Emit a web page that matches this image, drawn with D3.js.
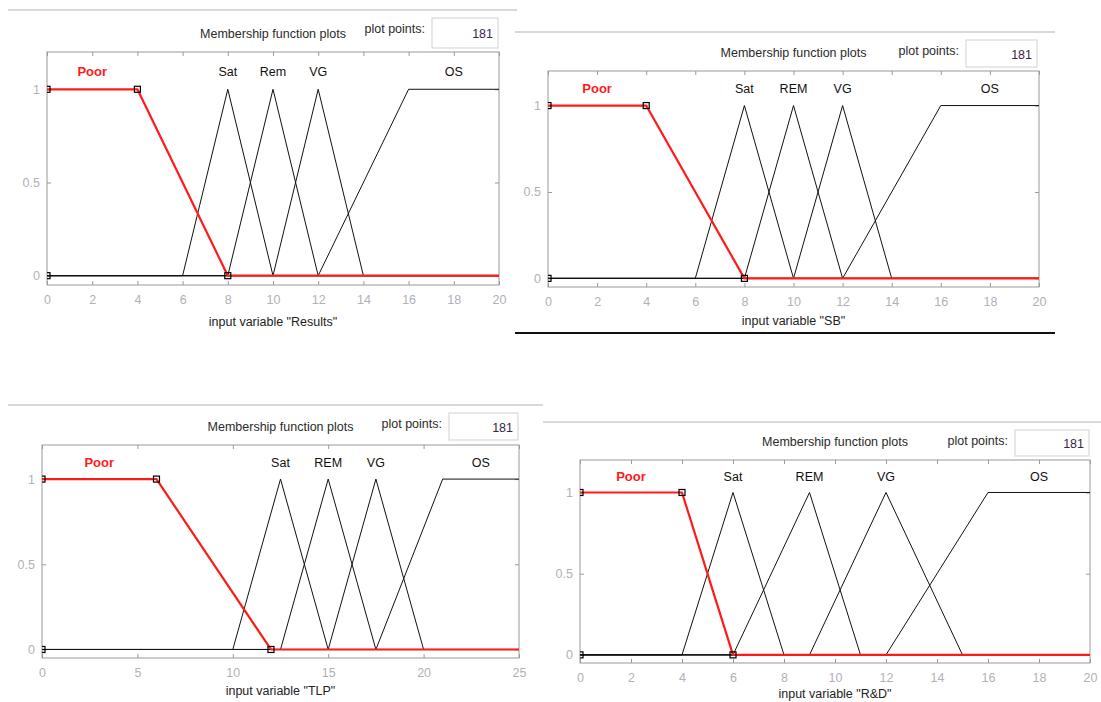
<!DOCTYPE html>
<html>
<head>
<meta charset="utf-8">
<script src="https://cdn.jsdelivr.net/npm/d3@7"></script>
<style>
body { margin: 0; background: #fff; }
text { font-family: "Liberation Sans", Arial, sans-serif; }
</style>
</head>
<body>
<script>
// data
var varNames = ['Results', 'SB', 'TLP', 'R&D'];
var mfLabels = [
    ['Poor', 'Sat', 'Rem', 'VG', 'OS'],
    ['Poor', 'Sat', 'REM', 'VG', 'OS'],
    ['Poor', 'Sat', 'REM', 'VG', 'OS'],
    ['Poor', 'Sat', 'REM', 'VG', 'OS']
];
var xRanges = [[0, 20], [0, 20], [0, 25], [0, 20]];
var xTickVals = [
    [0, 2, 4, 6, 8, 10, 12, 14, 16, 18, 20],
    [0, 2, 4, 6, 8, 10, 12, 14, 16, 18, 20],
    [0, 5, 10, 15, 20, 25],
    [0, 2, 4, 6, 8, 10, 12, 14, 16, 18, 20]
];
var yTickVals = [0, 0.5, 1];
var yTickLabels = ['0', '0.5', '1'];
// trapmf params
var poorParams = [[0, 0, 4, 8], [0, 0, 4, 8], [0, 0, 6, 12], [0, 0, 4, 6]];
var osParams = [[12, 16, 20, 20], [12, 16, 20, 20], [17.5, 21, 25, 25], [12, 16, 20, 20]];
// trimf params
var satParams = [[6, 8, 10], [6, 8, 10], [10, 12.5, 15], [4, 6, 8]];
var remParams = [[8, 10, 12], [8, 10, 12], [12.5, 15, 17.5], [6, 9, 11]];
var vgParams = [[10, 12, 14], [10, 12, 14], [15, 17.5, 20], [9, 12, 15]];
var plotPoints = [181, 181, 181, 181];

// where each panel sits on the page
var layout = [
    {x0: 47, x1: 499, y0: 52, y1: 285, box: [432, 18, 66, 30], xlab: 41},
    {x0: 548, x1: 1039, y0: 71, y1: 287, box: [966, 40, 71, 27], xlab: 38},
    {x0: 42, x1: 519, y0: 445, y1: 658, box: [449, 413, 69, 27], xlab: 37},
    {x0: 580, x1: 1090, y0: 460, y1: 663, box: [1015, 430, 74, 26], xlab: 35}
];

var svg = d3.select('body').append('svg')
    .attr('width', 1101)
    .attr('height', 702);

// separator rules between the panels
svg.append('line').attr('x1', 8).attr('x2', 517).attr('y1', 10).attr('y2', 10)
    .attr('stroke', '#cdcdcd').attr('stroke-width', 1.5);
svg.append('line').attr('x1', 515).attr('x2', 1055).attr('y1', 32).attr('y2', 32)
    .attr('stroke', '#cdcdcd').attr('stroke-width', 1.5);
svg.append('line').attr('x1', 515).attr('x2', 1055).attr('y1', 333).attr('y2', 333)
    .attr('stroke', '#111').attr('stroke-width', 2);
svg.append('line').attr('x1', 8).attr('x2', 543).attr('y1', 405).attr('y2', 405)
    .attr('stroke', '#cdcdcd').attr('stroke-width', 1.5);
svg.append('line').attr('x1', 543).attr('x2', 1101).attr('y1', 422).attr('y2', 422)
    .attr('stroke', '#cdcdcd').attr('stroke-width', 1.5);

// corner points of a trapezoid over the range; shoulders at the edges stay flat
function trapPts(p, r) {
    var pts = [];
    if (p[1] > r[0]) pts.push([r[0], 0], [p[0], 0]);
    pts.push([p[1], 1], [p[2], 1]);
    if (p[2] < r[1]) pts.push([p[3], 0], [r[1], 0]);
    return pts;
}
function triPts(p, r) {
    return [[r[0], 0], [p[0], 0], [p[1], 1], [p[2], 0], [r[1], 0]];
}

layout.forEach(function(L, i) {
    var g = svg.append('g');
    var x = d3.scaleLinear().domain(xRanges[i]).range([L.x0, L.x1]);
    var y = d3.scaleLinear().domain([-0.05, 1.2]).range([L.y1, L.y0]);
    var midX = (L.x0 + L.x1) / 2;

    // header
    g.append('text')
        .attr('x', midX).attr('y', L.y0 - 14)
        .attr('text-anchor', 'middle')
        .attr('font-size', 12.5)
        .attr('fill', '#2a2a2a')
        .text('Membership function plots');
    g.append('rect')
        .attr('x', L.box[0]).attr('y', L.box[1])
        .attr('width', L.box[2]).attr('height', L.box[3])
        .attr('fill', '#fff')
        .attr('stroke', '#cfd0dc');
    g.append('text')
        .attr('x', L.box[0] - 7).attr('y', L.box[1] + 15)
        .attr('text-anchor', 'end')
        .attr('font-size', 12.5)
        .attr('fill', '#2a2a2a')
        .text('plot points:');
    g.append('text')
        .attr('x', L.box[0] + L.box[2] - 5).attr('y', L.box[1] + L.box[3] / 2 + 5)
        .attr('text-anchor', 'end')
        .attr('font-size', 12.5)
        .attr('fill', '#3a2448')
        .text(plotPoints[i]);

    // plot frame
    g.append('rect')
        .attr('x', L.x0).attr('y', L.y0)
        .attr('width', L.x1 - L.x0).attr('height', L.y1 - L.y0)
        .attr('fill', '#fff')
        .attr('stroke', '#9a9a9a');

    // ticks on all four sides, inside the frame
    var xb = g.append('g').attr('transform', 'translate(0,' + L.y1 + ')')
        .call(d3.axisBottom(x).tickValues(xTickVals[i]).tickSize(-4).tickPadding(10).tickFormat(d3.format('d')));
    var xt = g.append('g').attr('transform', 'translate(0,' + L.y0 + ')')
        .call(d3.axisTop(x).tickValues(xTickVals[i]).tickSize(-4).tickFormat(''));
    var yl = g.append('g').attr('transform', 'translate(' + L.x0 + ',0)')
        .call(d3.axisLeft(y).tickValues(yTickVals).tickSize(-4).tickPadding(7)
            .tickFormat(function(d, k) { return yTickLabels[k]; }));
    var yr = g.append('g').attr('transform', 'translate(' + L.x1 + ',0)')
        .call(d3.axisRight(y).tickValues(yTickVals).tickSize(-4).tickFormat(''));
    [xb, xt, yl, yr].forEach(function(a) {
        a.select('.domain').remove();
        a.selectAll('line').attr('stroke', '#9a9a9a');
        a.selectAll('text')
            .attr('font-family', '"Liberation Sans", Arial, sans-serif')
            .attr('font-size', 12.5)
            .attr('fill', '#b2b0b8');
    });

    g.append('text')
        .attr('x', midX).attr('y', L.y1 + L.xlab)
        .attr('text-anchor', 'middle')
        .attr('font-size', 12.5)
        .attr('fill', '#222')
        .text('input variable "' + varNames[i] + '"');

    // membership functions
    var clipId = 'clip' + i;
    g.append('clipPath').attr('id', clipId)
        .append('rect')
        .attr('x', L.x0).attr('y', L.y0)
        .attr('width', L.x1 - L.x0).attr('height', L.y1 - L.y0);
    var plot = g.append('g').attr('clip-path', 'url(#' + clipId + ')');

    var line = d3.line()
        .x(function(d) { return x(d[0]); })
        .y(function(d) { return y(d[1]); });

    var blackMfs = [
        {pts: triPts(satParams[i], xRanges[i]), peak: satParams[i][1], label: mfLabels[i][1]},
        {pts: triPts(remParams[i], xRanges[i]), peak: remParams[i][1], label: mfLabels[i][2]},
        {pts: triPts(vgParams[i], xRanges[i]), peak: vgParams[i][1], label: mfLabels[i][3]},
        {pts: trapPts(osParams[i], xRanges[i]), peak: (osParams[i][1] + osParams[i][2]) / 2, label: mfLabels[i][4]}
    ];

    plot.selectAll('path.mf')
        .data(blackMfs)
        .enter().append('path')
        .attr('class', 'mf')
        .attr('d', function(d) { return line(d.pts); })
        .attr('fill', 'none')
        .attr('stroke', '#111')
        .attr('stroke-width', 1);

    g.selectAll('text.mflabel')
        .data(blackMfs)
        .enter().append('text')
        .attr('class', 'mflabel')
        .attr('x', function(d) { return x(d.peak); })
        .attr('y', y(1.1) + 5)
        .attr('text-anchor', 'middle')
        .attr('font-size', 12.5)
        .attr('fill', '#111')
        .text(function(d) { return d.label; });

    var pp = poorParams[i];
    plot.append('path')
        .attr('d', line(trapPts(pp, xRanges[i])))
        .attr('fill', 'none')
        .attr('stroke', '#ff1a1a')
        .attr('stroke-width', 2.2)
        .attr('stroke-linejoin', 'round');

    g.append('text')
        .attr('x', x((pp[1] + pp[2]) / 2))
        .attr('y', y(1.1) + 5)
        .attr('text-anchor', 'middle')
        .attr('font-size', 13)
        .attr('font-weight', 'bold')
        .attr('fill', '#ff1a1a')
        .text(mfLabels[i][0]);

    // square handles on the selected mf
    var handles = [[pp[0], 0], [pp[1], 1], [pp[2], 1], [pp[3], 0]];
    plot.selectAll('rect.handle')
        .data(handles)
        .enter().append('rect')
        .attr('class', 'handle')
        .attr('x', function(d) { return x(d[0]) - 3; })
        .attr('y', function(d) { return y(d[1]) - 3; })
        .attr('width', 6)
        .attr('height', 6)
        .attr('fill', 'none')
        .attr('stroke', '#000')
        .attr('stroke-width', 1.2);
});
</script>
</body>
</html>
